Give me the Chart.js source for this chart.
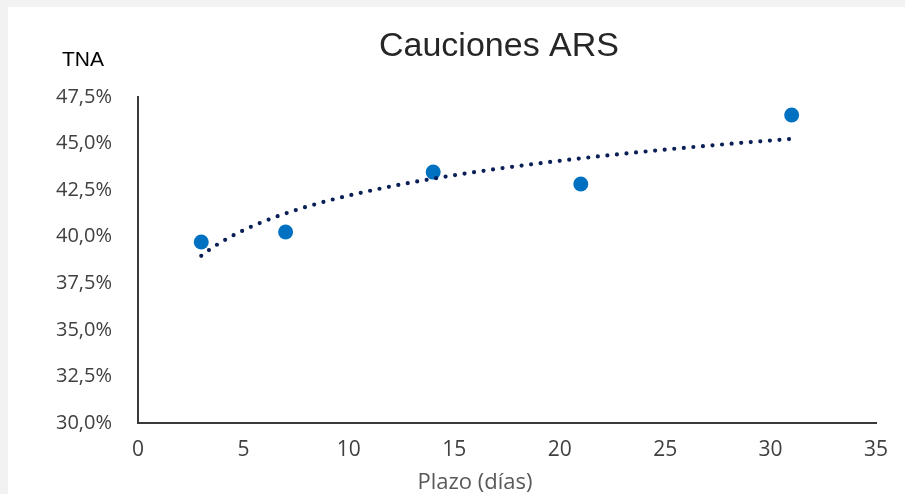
<!DOCTYPE html>
<html lang="es">
<head>
<meta charset="utf-8">
<title>Cauciones ARS</title>
<script src="https://cdn.jsdelivr.net/npm/chart.js@4.4.1/dist/chart.umd.min.js"></script>
<style>
  html, body { margin: 0; padding: 0; background: #f2f2f2; }
  #wrap {
    position: absolute; left: 8px; top: 7px;
    width: 897px; height: 487px; background: #fff;
  }
</style>
</head>
<body>
<div id="wrap"><canvas id="chart" width="897" height="487"></canvas></div>
<script>
// Data
const plazo = [3, 7, 14, 21, 31];                 // días
const tna = [39.72, 40.25, 43.47, 42.83, 46.53];  // %

const xTicks = [0, 5, 10, 15, 20, 25, 30, 35];
const yTicks = [30, 32.5, 35, 37.5, 40, 42.5, 45, 47.5];

const titleText = 'Cauciones ARS';
const yLabel = 'TNA';
const xLabel = 'Plazo (días)';

const colors = {
  point: '#0070c0',
  trend: '#0b1f57',
  axis: '#3a3a3a',
  tick: '#404040',
  label: '#595959',
  title: '#262626',
};

// Excel-style logarithmic trendline: y = a + b ln(x)
function logFit(xs, ys) {
  const lx = xs.map((v) => Math.log(v));
  const n = xs.length;
  const mx = lx.reduce((s, v) => s + v, 0) / n;
  const my = ys.reduce((s, v) => s + v, 0) / n;
  let sxy = 0, sxx = 0;
  lx.forEach((v, i) => { sxy += (v - mx) * (ys[i] - my); sxx += (v - mx) ** 2; });
  const b = sxy / sxx;
  return { a: my - b * mx, b };
}

const trendPlugin = {
  id: 'trend',
  afterDatasetsDraw(chart) {
    const { ctx, scales: { x, y } } = chart;
    const fit = logFit(plazo, tna);
    const x0 = Math.min(...plazo), x1 = Math.max(...plazo);
    const steps = 120;
    ctx.save();
    ctx.beginPath();
    for (let i = 0; i <= steps; i++) {
      const xv = x0 + (x1 - x0) * i / steps;
      const px = x.getPixelForValue(xv);
      const py = y.getPixelForValue(fit.a + fit.b * Math.log(xv));
      if (i === 0) ctx.moveTo(px, py); else ctx.lineTo(px, py);
    }
    ctx.strokeStyle = colors.trend;
    ctx.lineWidth = 4.2;
    ctx.lineCap = 'round';
    ctx.setLineDash([0, 9.6]);
    ctx.stroke();
    ctx.restore();
  },
};

const textPlugin = {
  id: 'labels',
  afterDraw(chart) {
    const { ctx } = chart;
    ctx.save();
    ctx.textAlign = 'center';
    ctx.textBaseline = 'middle';
    ctx.fillStyle = colors.title;
    ctx.font = '34px "Liberation Sans", Arial, sans-serif';
    ctx.fillText(titleText, 491, 40);
    ctx.fillStyle = '#000';
    ctx.font = '21px "Liberation Sans", Arial, sans-serif';
    ctx.fillText(yLabel, 75, 53);
    ctx.fillStyle = colors.label;
    ctx.font = '22px "Open Sans", "Noto Sans", sans-serif';
    ctx.fillText(xLabel, 467, 476);
    ctx.restore();
  },
};

new Chart(document.getElementById('chart'), {
  type: 'scatter',
  data: {
    datasets: [{
      label: 'TNA',
      data: plazo.map((d, i) => ({ x: d, y: tna[i] })),
      backgroundColor: colors.point,
      borderWidth: 0,
      pointRadius: 7.5,
      pointHoverRadius: 7.5,
    }],
  },
  options: {
    responsive: false,
    animation: false,
    layout: { padding: { left: 0, right: 29, top: 90, bottom: 0 } },
    plugins: {
      legend: { display: false },
      tooltip: { enabled: false },
    },
    scales: {
      x: {
        type: 'linear',
        min: 0,
        max: 35,
        afterFit(scale) { scale.height = 71; },
        afterBuildTicks(scale) { scale.ticks = xTicks.map((v) => ({ value: v })); },
        grid: { display: false, drawTicks: false },
        border: { display: true, color: colors.axis, width: 2 },
        ticks: {
          color: colors.tick,
          padding: 14,
          font: { family: '"Open Sans", "Noto Sans", sans-serif', size: 21 },
        },
      },
      y: {
        type: 'linear',
        min: 30,
        max: 47.5,
        afterFit(scale) { scale.width = 130; },
        afterBuildTicks(scale) { scale.ticks = yTicks.map((v) => ({ value: v })); },
        grid: { display: false, drawTicks: false },
        border: { display: true, color: colors.axis, width: 2 },
        ticks: {
          color: colors.tick,
          padding: 26,
          font: { family: '"Open Sans", "Noto Sans", sans-serif', size: 20 },
          callback: (v) => v.toFixed(1).replace('.', ',') + '%',
        },
      },
    },
  },
  plugins: [trendPlugin, textPlugin],
});
</script>
</body>
</html>
